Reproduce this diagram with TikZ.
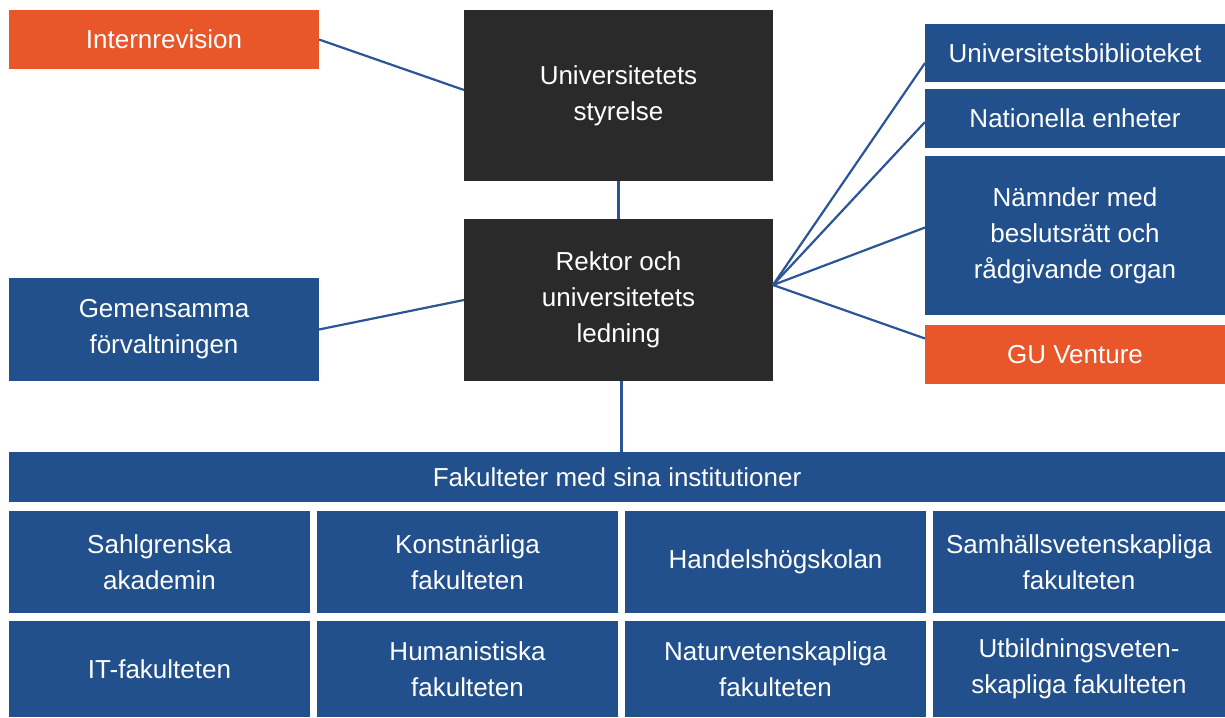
\documentclass[tikz,border=0pt]{standalone}
\usepackage{fontspec}
\setmainfont{Liberation Sans}
\definecolor{gublue}{HTML}{21508D}
\definecolor{guorange}{HTML}{E8562A}
\definecolor{gudark}{HTML}{2A2A2A}
\definecolor{guline}{HTML}{2B5597}
\begin{document}
\begin{tikzpicture}[x=1pt,y=-1pt,
  box/.style={anchor=north west, inner sep=0pt, outer sep=0pt, text=white, align=center,
    font=\fontsize{26}{36}\selectfont},
  bluebox/.style={box, fill=gublue},
  orangebox/.style={box, fill=guorange},
  darkbox/.style={box, fill=gudark},
  conn/.style={draw=guline, line width=2.2pt}]
\useasboundingbox (0,0) rectangle (1225,717);
\fill[white] (0,0) rectangle (1225,717);

\node[orangebox, minimum width=310pt, minimum height=59pt] (intern) at (9,10) {Internrevision};
\node[darkbox, minimum width=309pt, minimum height=171pt] (styr) at (464,10) {Universitetets\\styrelse};
\node[darkbox, minimum width=309pt, minimum height=162pt] (rektor) at (464,219) {Rektor och\\universitetets\\ledning};
\node[bluebox, minimum width=310pt, minimum height=103pt] (gem) at (9,278) {Gemensamma\\förvaltningen};

\node[bluebox, minimum width=300pt, minimum height=58pt] (bib) at (925,24) {Universitetsbiblioteket};
\node[bluebox, minimum width=300pt, minimum height=59pt] (nat) at (925,89) {Nationella enheter};
\node[bluebox, minimum width=300pt, minimum height=159pt] (namn) at (925,156) {Nämnder med\\beslutsrätt och\\rådgivande organ};
\node[orangebox, minimum width=300pt, minimum height=59pt] (gu) at (925,325) {GU Venture};

\node[bluebox, minimum width=1216pt, minimum height=50pt] (fak) at (9,452) {Fakulteter med sina institutioner};

\node[bluebox, minimum width=301pt, minimum height=102pt] (f11) at (9,511) {Sahlgrenska\\akademin};
\node[bluebox, minimum width=301pt, minimum height=102pt] (f12) at (317,511) {Konstnärliga\\fakulteten};
\node[bluebox, minimum width=301pt, minimum height=102pt] (f13) at (625,511) {Handelshögskolan};
\node[bluebox, minimum width=292pt, minimum height=102pt] (f14) at (933,511) {Samhällsvetenskapliga\\fakulteten};
\node[bluebox, minimum width=301pt, minimum height=96pt] (f21) at (9,621) {IT-fakulteten};
\node[bluebox, minimum width=301pt, minimum height=96pt] (f22) at (317,621) {Humanistiska\\fakulteten};
\node[bluebox, minimum width=301pt, minimum height=96pt] (f23) at (625,621) {Naturvetenskapliga\\fakulteten};
\node[bluebox, minimum width=292pt, minimum height=96pt] (f24) at (933,621) {Utbildningsveten-\\skapliga fakulteten};

\draw[conn] (intern.east) -- ([yshift=5.5pt]styr.west);
\draw[conn] (styr.south) -- (rektor.north);
\coordinate (rb) at ([xshift=3pt]rektor.south);
\draw[conn] (rb) -- (rb |- fak.north);
\draw[conn] (gem.east) -- (rektor.west);
\coordinate (fan) at ([yshift=15pt]rektor.east);
\draw[conn] (fan) -- ([yshift=-10pt]bib.west);
\draw[conn] (fan) -- ([yshift=-3.5pt]nat.west);
\draw[conn] (fan) -- ([yshift=8pt]namn.west);
\draw[conn] (fan) -- ([yshift=16pt]gu.west);
\end{tikzpicture}
\end{document}
